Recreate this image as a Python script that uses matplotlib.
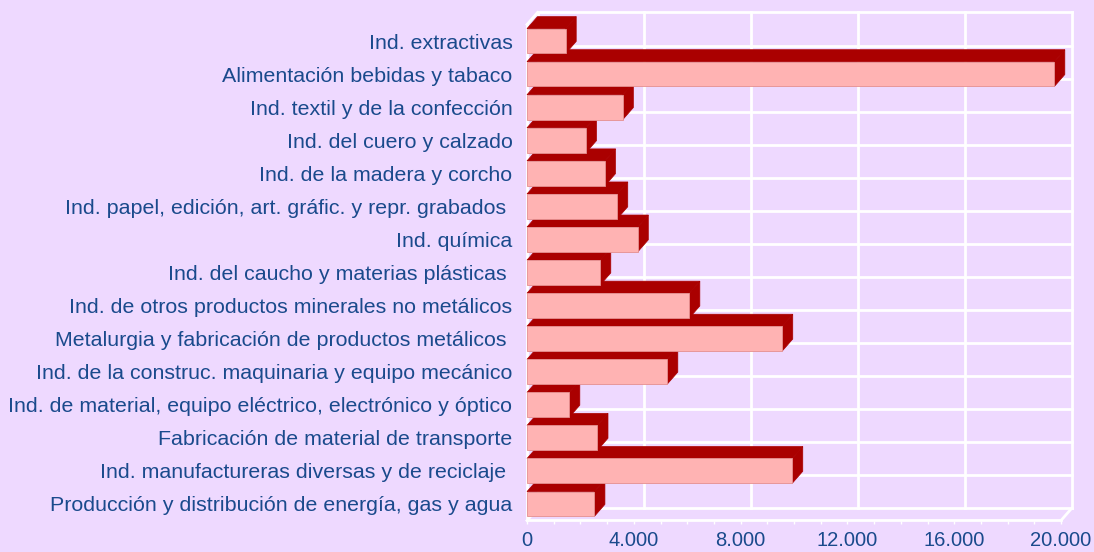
import matplotlib
matplotlib.use("Agg")
import matplotlib.pyplot as plt
from matplotlib.patches import Polygon

# sectors, top to bottom as drawn
sectors = [
    "Ind. extractivas",
    "Alimentación bebidas y tabaco",
    "Ind. textil y de la confección",
    "Ind. del cuero y calzado",
    "Ind. de la madera y corcho",
    "Ind. papel, edición, art. gráfic. y repr. grabados ",
    "Ind. química",
    "Ind. del caucho y materias plásticas ",
    "Ind. de otros productos minerales no metálicos",
    "Metalurgia y fabricación de productos metálicos ",
    "Ind. de la construc. maquinaria y equipo mecánico",
    "Ind. de material, equipo eléctrico, electrónico y óptico",
    "Fabricación de material de transporte",
    "Ind. manufactureras diversas y de reciclaje ",
    "Producción y distribución de energía, gas y agua",
]
values = [1450, 19750, 3590, 2210, 2920, 3380, 4150, 2745, 6080,
          9560, 5255, 1585, 2640, 9935, 2525]

x_ticks = [0, 4000, 8000, 12000, 16000, 20000]
x_ticklabels = ["0", "4.000", "8.000", "12.000", "16.000", "20.000"]

BG = "#EED9FF"
FRONT = "#FFB3B3"
DARK = "#AA0000"
TEXT = "#1A4A8C"
DEPTH_PX = (10.5, 12.0)   # 3d depth offset in pixels
BAR_H = 0.75

plt.rcParams["font.family"] = ["Liberation Sans", "DejaVu Sans"]

fig = plt.figure(figsize=(10.94, 5.52), dpi=100, facecolor=BG)
# front plane of the 3d box
ax = fig.add_axes([527 / 1094, (552 - 520.5) / 552, 534 / 1094, 496 / 552])
ax.set_facecolor("none")
for s in ax.spines.values():
    s.set_visible(False)

n = len(sectors)
ypos = list(range(n))
ax.set_xlim(0, 20000)
ax.set_ylim(n - 0.5, -0.5)

# depth offset in data units
p0 = ax.transData.transform((0, 0))
dxd, dyd = ax.transData.inverted().transform((p0[0] + DEPTH_PX[0], p0[1] + DEPTH_PX[1]))

wall = dict(color="white", lw=2.0, clip_on=False, solid_capstyle="projecting")

# back wall grid
for xv in x_ticks:
    ax.plot([xv + dxd, xv + dxd], [-0.5 + dyd, n - 0.5 + dyd], zorder=1, **wall)
for k in range(n + 1):
    yb = -0.5 + k + dyd
    ax.plot([dxd, 20000 + dxd], [yb, yb], zorder=1, **wall)

# box edges (side wall / floor)
ax.plot([0, 0], [-0.5, n - 0.5], zorder=1, **wall)
ax.plot([0, dxd], [-0.5, -0.5 + dyd], zorder=1, **wall)
ax.plot([0, dxd], [n - 0.5, n - 0.5 + dyd], zorder=1, **wall)
ax.plot([20000, 20000 + dxd], [n - 0.5, n - 0.5 + dyd], zorder=1, **wall)
ax.plot([0, 20000], [n - 0.5, n - 0.5], zorder=1, **wall)

# 3d bars, lower rows first so upper rows sit on top
for i in reversed(range(n)):
    v = values[i]
    y0 = ypos[i] - BAR_H / 2
    y1 = ypos[i] + BAR_H / 2
    z = 10 + (n - i) * 3
    top = Polygon([(0, y0), (v, y0), (v + dxd, y0 + dyd), (dxd, y0 + dyd)],
                  closed=True, facecolor=DARK, edgecolor=DARK, lw=0.5,
                  zorder=z, clip_on=False)
    side = Polygon([(v, y0), (v, y1), (v + dxd, y1 + dyd), (v + dxd, y0 + dyd)],
                   closed=True, facecolor=DARK, edgecolor=DARK, lw=0.5,
                   zorder=z, clip_on=False)
    ax.add_patch(top)
    ax.add_patch(side)
    ax.barh(ypos[i], v, height=BAR_H, color=FRONT, edgecolor="#E59090",
            lw=0.6, zorder=z + 1)

ax.set_yticks(ypos)
ax.set_yticklabels(sectors, fontsize=15.4, color=TEXT)
ax.tick_params(axis="y", length=0, pad=10.5)

ax.set_xticks(x_ticks)
ax.set_xticklabels(x_ticklabels, fontsize=14.5, color=TEXT)
ax.set_xticks(range(0, 20001, 1000), minor=True)
ax.tick_params(axis="x", which="both", length=2, width=1, color="white",
               direction="out", pad=5.5)

fig.savefig("out.png", dpi=100, facecolor=BG)
